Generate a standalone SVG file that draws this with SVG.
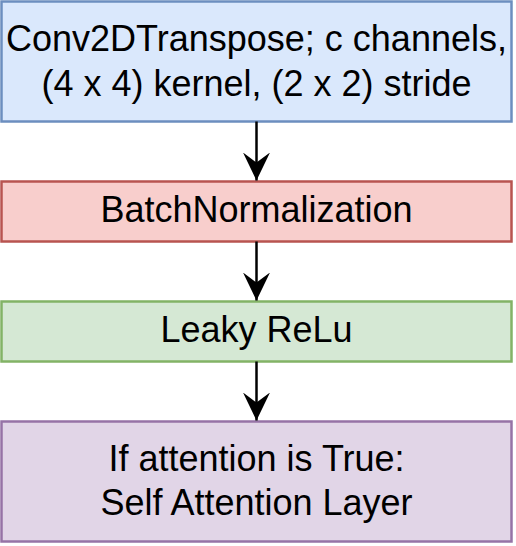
<svg xmlns="http://www.w3.org/2000/svg" width="516" height="546" viewBox="0 0 516 546">
<style>
  .box { stroke-width: 2.5; }
  .lbl { font-family: "Liberation Sans", Arial, Helvetica, sans-serif; font-size: 36px; fill: #000; text-anchor: middle; }
  .edge { stroke: #000; stroke-width: 2.5; fill: none; }
</style>
<defs>
  <marker id="arr" markerWidth="28" markerHeight="28" viewBox="0 0 28 28" refX="28" refY="13.5" orient="auto" markerUnits="userSpaceOnUse">
    <path d="M0,0 L28,13.5 L0,27 L10,13.5 Z" fill="#000"/>
  </marker>
</defs>
<rect width="516" height="546" fill="#fff"/>
<g id="n1">
  <rect class="box" x="1.5" y="1.5" width="510" height="120" fill="#dae8fc" stroke="#6c8ebf"/>
  <text class="lbl" x="256.5" y="51">Conv2DTranspose; c channels,</text>
  <text class="lbl" x="256.5" y="96">(4 x 4) kernel, (2 x 2) stride</text>
</g>
<g id="n2">
  <rect class="box" x="1.5" y="181.5" width="510" height="60" fill="#f8cecc" stroke="#b85450"/>
  <text class="lbl" x="256.5" y="221.5">BatchNormalization</text>
</g>
<g id="n3">
  <rect class="box" x="1.5" y="301.5" width="510" height="60" fill="#d5e8d4" stroke="#82b366"/>
  <text class="lbl" x="256.5" y="342">Leaky ReLu</text>
</g>
<g id="n4">
  <rect class="box" x="1.5" y="421.5" width="510" height="120" fill="#e1d5e7" stroke="#9673a6"/>
  <text class="lbl" x="256.5" y="470.5">If attention is True:</text>
  <text class="lbl" x="256.5" y="515">Self Attention Layer</text>
</g>
<g id="edges">
  <line class="edge" x1="256.5" y1="121.5" x2="256.5" y2="180.5" marker-end="url(#arr)"/>
  <line class="edge" x1="256.5" y1="241.5" x2="256.5" y2="300.5" marker-end="url(#arr)"/>
  <line class="edge" x1="256.5" y1="361.5" x2="256.5" y2="420.5" marker-end="url(#arr)"/>
</g>
</svg>
